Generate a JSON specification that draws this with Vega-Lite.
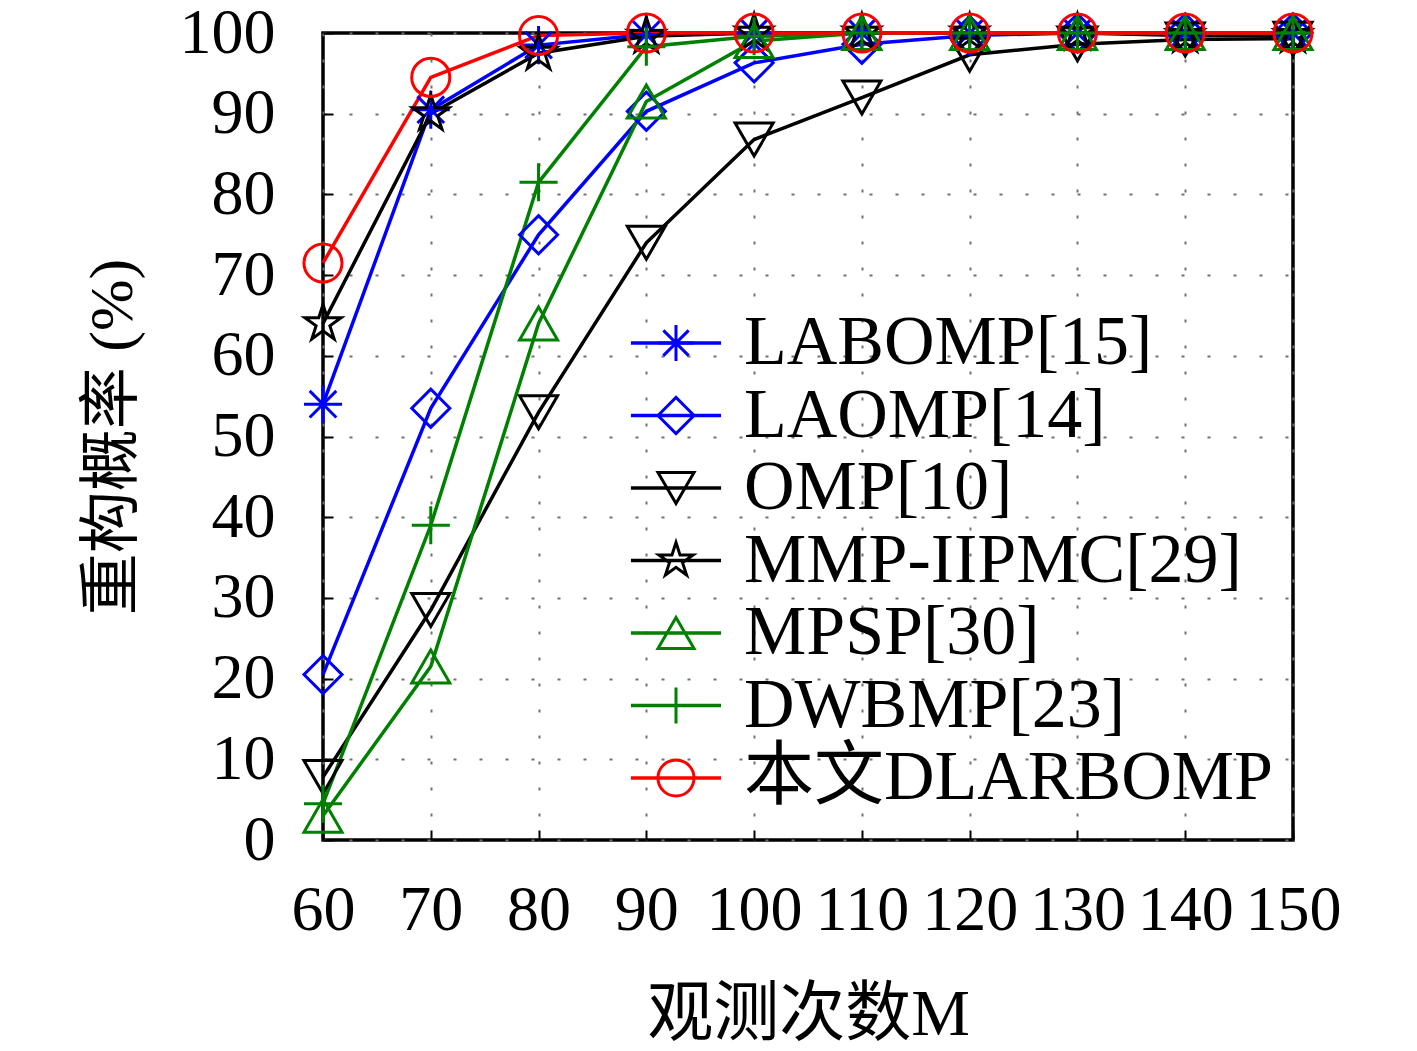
{
  "$schema": "https://vega.github.io/schema/vega-lite/v6.json",
  "width": 970,
  "height": 807,
  "autosize": "none",
  "padding": {"left": 323, "top": 33, "right": 124, "bottom": 211},
  "background": "white",
  "config": {
    "view": {"stroke": "black", "strokeWidth": 3.5},
    "font": "Liberation Serif, Noto Sans CJK SC",
    "axis": {
      "grid": true,
      "gridColor": "#707070",
      "gridDash": [3, 23],
      "gridWidth": 2,
      "domain": false,
      "ticks": true,
      "tickSize": -10,
      "tickColor": "black",
      "tickWidth": 2,
      "labelFont": "Liberation Serif",
      "labelFontSize": 64,
      "labelColor": "black",
      "labelOverlap": false,
      "labelFlush": false,
      "titleFont": "Liberation Serif, Noto Sans CJK SC",
      "titleFontWeight": "normal",
      "titleColor": "black"
    },
    "legend": {
      "labelFont": "Liberation Serif, Noto Sans CJK SC",
      "labelFontSize": 70,
      "labelColor": "black",
      "labelLimit": 0,
      "padding": 0
    }
  },
  "data": {
    "values": [
      {"M": 60, "series": "LABOMP[15]", "p": 54},
      {"M": 70, "series": "LABOMP[15]", "p": 90.5},
      {"M": 80, "series": "LABOMP[15]", "p": 98.5},
      {"M": 90, "series": "LABOMP[15]", "p": 99.8},
      {"M": 100, "series": "LABOMP[15]", "p": 100},
      {"M": 110, "series": "LABOMP[15]", "p": 100},
      {"M": 120, "series": "LABOMP[15]", "p": 100},
      {"M": 130, "series": "LABOMP[15]", "p": 100},
      {"M": 140, "series": "LABOMP[15]", "p": 100},
      {"M": 150, "series": "LABOMP[15]", "p": 100},
      {"M": 60, "series": "LAOMP[14]", "p": 20.5},
      {"M": 70, "series": "LAOMP[14]", "p": 53.5},
      {"M": 80, "series": "LAOMP[14]", "p": 75},
      {"M": 90, "series": "LAOMP[14]", "p": 90.3},
      {"M": 100, "series": "LAOMP[14]", "p": 96.3},
      {"M": 110, "series": "LAOMP[14]", "p": 98.6},
      {"M": 120, "series": "LAOMP[14]", "p": 99.7},
      {"M": 130, "series": "LAOMP[14]", "p": 100},
      {"M": 140, "series": "LAOMP[14]", "p": 100},
      {"M": 150, "series": "LAOMP[14]", "p": 100},
      {"M": 60, "series": "OMP[10]", "p": 7.8},
      {"M": 70, "series": "OMP[10]", "p": 28.5},
      {"M": 80, "series": "OMP[10]", "p": 53},
      {"M": 90, "series": "OMP[10]", "p": 74},
      {"M": 100, "series": "OMP[10]", "p": 86.8},
      {"M": 110, "series": "OMP[10]", "p": 92},
      {"M": 120, "series": "OMP[10]", "p": 97.3},
      {"M": 130, "series": "OMP[10]", "p": 98.6},
      {"M": 140, "series": "OMP[10]", "p": 99.2},
      {"M": 150, "series": "OMP[10]", "p": 99.3},
      {"M": 60, "series": "MMP-IIPMC[29]", "p": 64},
      {"M": 70, "series": "MMP-IIPMC[29]", "p": 90},
      {"M": 80, "series": "MMP-IIPMC[29]", "p": 97.5},
      {"M": 90, "series": "MMP-IIPMC[29]", "p": 99.6},
      {"M": 100, "series": "MMP-IIPMC[29]", "p": 100},
      {"M": 110, "series": "MMP-IIPMC[29]", "p": 100},
      {"M": 120, "series": "MMP-IIPMC[29]", "p": 100},
      {"M": 130, "series": "MMP-IIPMC[29]", "p": 100},
      {"M": 140, "series": "MMP-IIPMC[29]", "p": 99.7},
      {"M": 150, "series": "MMP-IIPMC[29]", "p": 99.7},
      {"M": 60, "series": "MPSP[30]", "p": 3},
      {"M": 70, "series": "MPSP[30]", "p": 21.5},
      {"M": 80, "series": "MPSP[30]", "p": 64},
      {"M": 90, "series": "MPSP[30]", "p": 91.5},
      {"M": 100, "series": "MPSP[30]", "p": 99},
      {"M": 110, "series": "MPSP[30]", "p": 100},
      {"M": 120, "series": "MPSP[30]", "p": 100},
      {"M": 130, "series": "MPSP[30]", "p": 100},
      {"M": 140, "series": "MPSP[30]", "p": 100},
      {"M": 150, "series": "MPSP[30]", "p": 100},
      {"M": 60, "series": "DWBMP[23]", "p": 4.5},
      {"M": 70, "series": "DWBMP[23]", "p": 39},
      {"M": 80, "series": "DWBMP[23]", "p": 81.5},
      {"M": 90, "series": "DWBMP[23]", "p": 98.3},
      {"M": 100, "series": "DWBMP[23]", "p": 99.6},
      {"M": 110, "series": "DWBMP[23]", "p": 100},
      {"M": 120, "series": "DWBMP[23]", "p": 100},
      {"M": 130, "series": "DWBMP[23]", "p": 100},
      {"M": 140, "series": "DWBMP[23]", "p": 100},
      {"M": 150, "series": "DWBMP[23]", "p": 100},
      {"M": 60, "series": "本文DLARBOMP", "p": 71.5},
      {"M": 70, "series": "本文DLARBOMP", "p": 94.5},
      {"M": 80, "series": "本文DLARBOMP", "p": 99.7},
      {"M": 90, "series": "本文DLARBOMP", "p": 100},
      {"M": 100, "series": "本文DLARBOMP", "p": 100},
      {"M": 110, "series": "本文DLARBOMP", "p": 100},
      {"M": 120, "series": "本文DLARBOMP", "p": 100},
      {"M": 130, "series": "本文DLARBOMP", "p": 100},
      {"M": 140, "series": "本文DLARBOMP", "p": 100},
      {"M": 150, "series": "本文DLARBOMP", "p": 100}
    ]
  },
  "encoding": {
    "x": {
      "field": "M",
      "type": "quantitative",
      "scale": {"domain": [60, 150], "nice": false},
      "axis": {
        "values": [60, 70, 80, 90, 100, 110, 120, 130, 140, 150],
        "labelPadding": 48,
        "title": "观测次数M",
        "titleFontSize": 66,
        "titlePadding": 40
      }
    },
    "y": {
      "field": "p",
      "type": "quantitative",
      "scale": {"domain": [0, 100], "nice": false},
      "axis": {
        "values": [0, 10, 20, 30, 40, 50, 60, 70, 80, 90, 100],
        "labelPadding": 58,
        "title": "重构概率 (%)",
        "titleFontSize": 62,
        "titlePadding": 35
      }
    }
  },
  "layer": [
    {
      "mark": {"type": "line", "strokeWidth": 3.5},
      "encoding": {
        "stroke": {
          "field": "series",
          "type": "nominal",
          "sort": ["LABOMP[15]", "LAOMP[14]", "OMP[10]", "MMP-IIPMC[29]", "MPSP[30]", "DWBMP[23]", "本文DLARBOMP"],
          "scale": {"range": ["#0000ff", "#0000ff", "#000000", "#000000", "#008000", "#008000", "#ff0000"]},
          "legend": {
            "title": null,
            "orient": "none",
            "legendX": 318,
            "legendY": 275,
            "symbolType": "M-2.5,0H2.5",
            "symbolSize": 1300,
            "symbolStrokeWidth": 3.5,
            "labelOffset": 33,
            "rowPadding": 2.5
          }
        }
      }
    },
    {
      "mark": {"type": "point", "filled": false, "strokeWidth": 3, "size": 1450, "opacity": 1},
      "encoding": {
        "color": {
          "field": "series",
          "type": "nominal",
          "scale": {
            "domain": ["LABOMP[15]", "LAOMP[14]", "OMP[10]", "MMP-IIPMC[29]", "MPSP[30]", "DWBMP[23]", "本文DLARBOMP"],
            "range": ["#0000ff", "#0000ff", "#000000", "#000000", "#008000", "#008000", "#ff0000"]
          },
          "legend": {
            "title": null,
            "orient": "none",
            "legendX": 318,
            "legendY": 275,
            "symbolSize": 1300,
            "symbolStrokeWidth": 3,
            "labelOpacity": 0,
            "labelOffset": 33,
            "rowPadding": 2.5
          }
        },
        "shape": {
          "field": "series",
          "type": "nominal",
          "scale": {
            "domain": ["LABOMP[15]", "LAOMP[14]", "OMP[10]", "MMP-IIPMC[29]", "MPSP[30]", "DWBMP[23]", "本文DLARBOMP"],
            "range": [
              "M-1,0H1M0,-1V1M-0.7,-0.7L0.7,0.7M-0.7,0.7L0.7,-0.7",
              "diamond",
              "triangle-down",
              "M0,-1L0.2234,-0.3074L0.9511,-0.309L0.3614,0.1174L0.5878,0.809L0,0.38L-0.5878,0.809L-0.3614,0.1174L-0.9511,-0.309L-0.2234,-0.3074Z",
              "triangle-up",
              "M-1,0H1M0,-1V1",
              "circle"
            ]
          },
          "legend": {
            "title": null,
            "orient": "none",
            "legendX": 318,
            "legendY": 275,
            "symbolSize": 1300,
            "symbolStrokeWidth": 3,
            "labelOpacity": 0,
            "labelOffset": 33,
            "rowPadding": 2.5
          }
        }
      }
    }
  ]
}
